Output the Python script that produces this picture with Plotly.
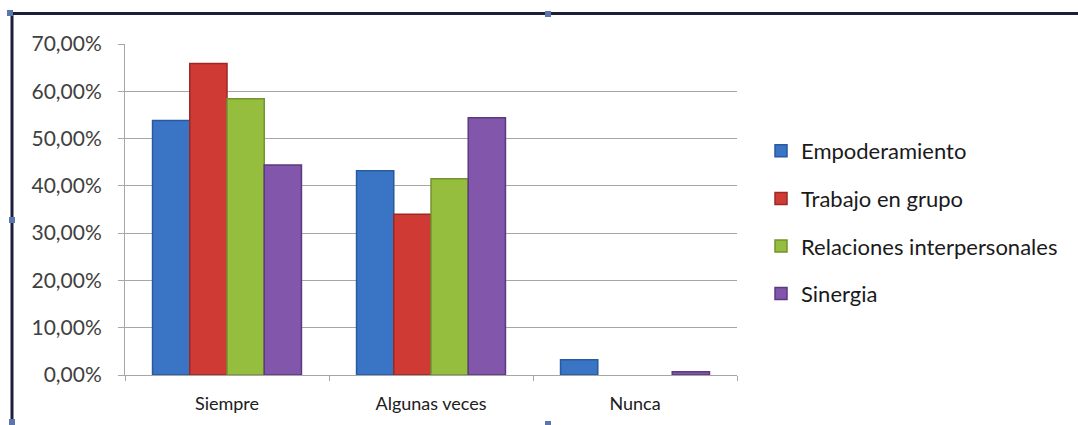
import plotly.graph_objects as go

categories = ["Siempre", "Algunas veces", "Nunca"]
series_names = ["Empoderamiento", "Trabajo en grupo", "Relaciones interpersonales", "Sinergia"]
empoderamiento = [53.8, 43.2, 3.2]
trabajo_en_grupo = [65.9, 34.0, 0.0]
relaciones_interpersonales = [58.4, 41.5, 0.0]
sinergia = [44.4, 54.4, 0.7]
y_ticks = [0, 10, 20, 30, 40, 50, 60, 70]
y_tick_labels = ["0,00%", "10,00%", "20,00%", "30,00%", "40,00%", "50,00%", "60,00%", "70,00%"]

values = [empoderamiento, trabajo_en_grupo, relaciones_interpersonales, sinergia]
fills = ["#3a74c4", "#cf3a34", "#96be3e", "#8156ab"]
edges = ["#275a9e", "#9e2824", "#739431", "#5c3a80"]

W, H = 1078, 425
L, R, T, B = 125, 1078 - 737, 44, 50
PW, PH = W - L - R, H - T - B

def px(x):
    return (x - L) / PW

def py(y):
    return (H - B - y) / PH

fig = go.Figure()
for name, vals, fc, ec in zip(series_names, values, fills, edges):
    fig.add_trace(go.Bar(
        x=categories, y=vals, name=name, legendgroup=name,
        marker=dict(color=fc, line=dict(color=ec, width=[1.5 if v > 0 else 0 for v in vals])),
    ))

shapes = []
border = "#1e1e3a"
shapes.append(dict(type="line", xref="paper", yref="paper", x0=px(8), x1=px(1078), y0=py(13.5), y1=py(13.5),
                   line=dict(color=border, width=3)))
shapes.append(dict(type="line", xref="paper", yref="paper", x0=px(12), x1=px(12), y0=py(13), y1=py(425),
                   line=dict(color=border, width=3)))
for hx, hy in [(10, 13), (548, 14), (12, 220), (12, 422), (548, 424)]:
    shapes.append(dict(type="rect", xref="paper", yref="paper", x0=px(hx - 3), x1=px(hx + 3),
                       y0=py(hy - 3), y1=py(hy + 3), fillcolor="#5a76ad", line=dict(width=0)))

fig.update_layout(
    width=W, height=H,
    margin=dict(l=L, r=R, t=T, b=B),
    paper_bgcolor="white", plot_bgcolor="white",
    barmode="group", bargap=0.27, bargroupgap=0,
    font=dict(family="Lato, Open Sans, sans-serif", color="#404040"),
    showlegend=True,
    legend=dict(x=px(761), xanchor="left", y=py(130), yanchor="top",
                font=dict(size=22, color="#1a1a1a"), tracegroupgap=16,
                itemwidth=30, bgcolor="rgba(0,0,0,0)"),
    shapes=shapes,
)
fig.update_yaxes(range=[0, 70], tickvals=y_ticks, ticktext=y_tick_labels,
                 showgrid=True, gridcolor="#a6a6a6", gridwidth=1,
                 showline=True, linecolor="#a6a6a6", linewidth=1,
                 ticks="outside", ticklen=6, tickcolor="#a6a6a6",
                 ticklabelstandoff=12, tickfont=dict(size=21, color="#404040"),
                 zeroline=False)
fig.update_xaxes(showline=True, linecolor="#a6a6a6", linewidth=1,
                 ticks="outside", tickson="boundaries", ticklen=5, tickcolor="#a6a6a6",
                 ticklabelstandoff=12, tickfont=dict(size=18, color="#202020"))

fig.write_html("out.html")
